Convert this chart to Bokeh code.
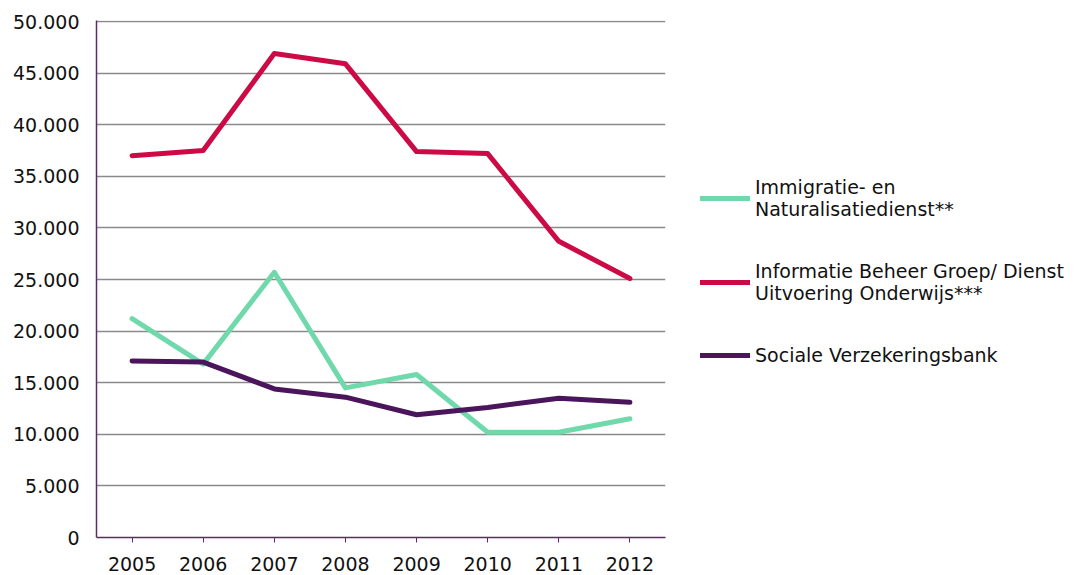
from bokeh.plotting import figure
from bokeh.models import FactorRange, Range1d, FixedTicker, CustomJSTickFormatter, Legend, LegendItem
from bokeh.embed import file_html
from bokeh.resources import INLINE

years = ["2005", "2006", "2007", "2008", "2009", "2010", "2011", "2012"]
ind = [21200, 16800, 25700, 14500, 15800, 10200, 10200, 11500]
ibg_duo = [37000, 37500, 46900, 45900, 37400, 37200, 28700, 25100]
svb = [17100, 17000, 14400, 13600, 11900, 12600, 13500, 13100]
labels = ["Immigratie- en\nNaturalisatiedienst**",
          "Informatie Beheer Groep/ Dienst\nUitvoering Onderwijs***",
          "Sociale Verzekeringsbank"]
colors = ["#6fd9ab", "#cc0a45", "#4b155c"]
y_ticks = list(range(0, 50001, 5000))

FONT = "DejaVu Sans"

p = figure(x_range=FactorRange(*years, range_padding=0), y_range=Range1d(0, 50100),
           frame_width=569, frame_height=517, output_backend="svg", toolbar_location=None,
           min_border_left=96, min_border_right=0, min_border_top=20, min_border_bottom=36)
p.outline_line_color = None

renderers = []
for vals, c in zip([ind, ibg_duo, svb], colors):
    r = p.line(years, vals, line_color=c, line_width=5, line_cap="round", line_join="round")
    renderers.append(r)

p.yaxis.ticker = FixedTicker(ticks=y_ticks)
p.yaxis.formatter = CustomJSTickFormatter(code="""
    if (tick == 0) return '0';
    var s = Math.round(tick).toString();
    return s.replace(/\\B(?=(\\d{3})+(?!\\d))/g, '.');
""")
p.ygrid.grid_line_color = "#8a8a8a"
p.ygrid.grid_line_width = 1.5
p.xgrid.grid_line_color = None

for ax in (p.xaxis, p.yaxis):
    ax.axis_line_color = "#5a2a6e"
    ax.axis_line_width = 1.5
    ax.major_label_text_font = FONT
    ax.major_label_text_font_size = "19px"
    ax.major_label_text_color = "#111111"
    ax.minor_tick_line_color = None

p.yaxis.major_tick_line_color = None
p.yaxis.major_tick_out = 0
p.yaxis.major_tick_in = 0
p.yaxis.major_label_standoff = 17
p.xaxis.major_tick_line_color = "#5a2a6e"
p.xaxis.major_tick_in = 0
p.xaxis.major_tick_out = 5
p.xaxis.major_label_standoff = 14

legend = Legend(items=[LegendItem(label=l, renderers=[r]) for l, r in zip(labels, renderers)],
                location=(35, 171), orientation="vertical",
                label_text_font=FONT, label_text_font_size="19px", label_text_color="#111111",
                glyph_width=50, glyph_height=20, label_standoff=5, spacing=40,
                padding=0, margin=0, border_line_color=None, background_fill_alpha=0,
                label_text_line_height=1.3)
p.add_layout(legend, "right")

open("out.html", "w").write(file_html(p, INLINE))
